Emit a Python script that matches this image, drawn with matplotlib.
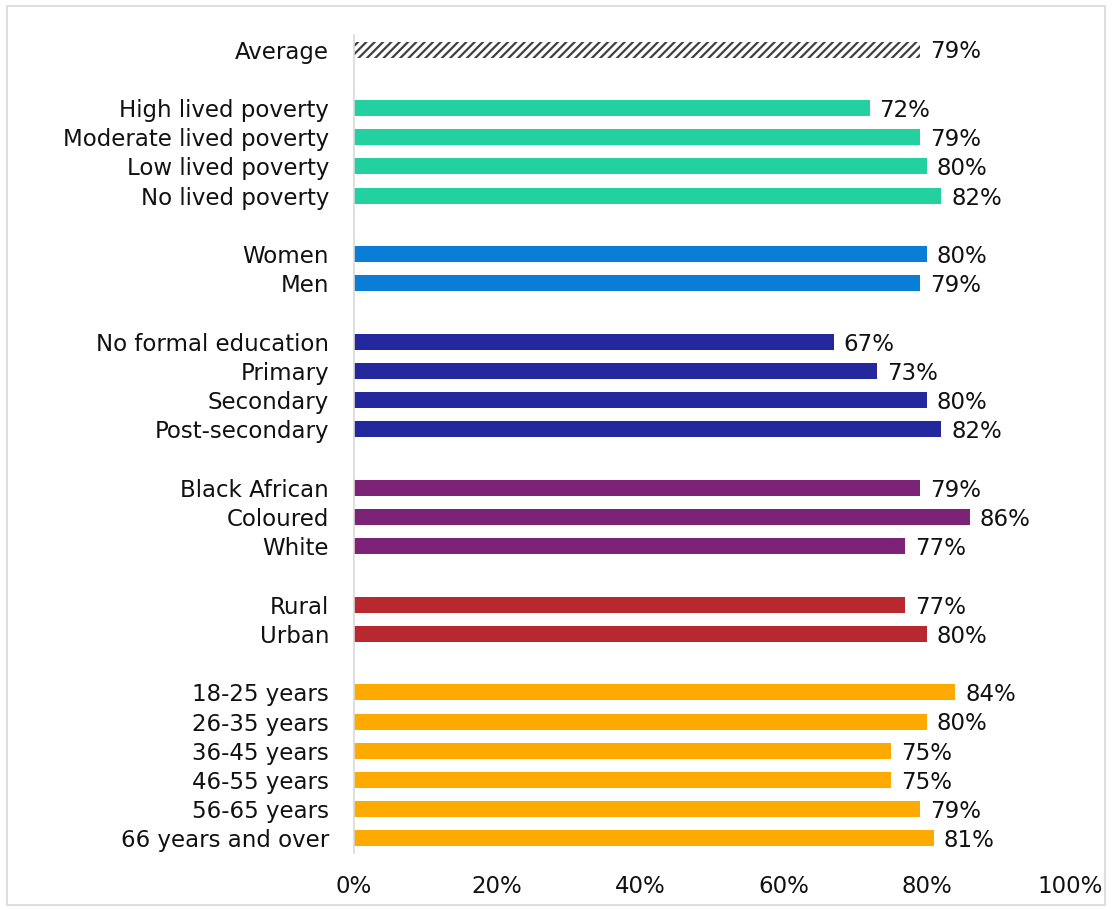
import matplotlib
matplotlib.use("Agg")
import matplotlib.pyplot as plt
from matplotlib.patches import Rectangle

plt.rcParams['font.family'] = ['DejaVu Sans']
plt.rcParams['hatch.linewidth'] = 1.6

# Data grouped
groups = [
    (["Average"], [79], "hatch"),
    (["High lived poverty", "Moderate lived poverty", "Low lived poverty", "No lived poverty"], [72, 79, 80, 82], "#22D0A0"),
    (["Women", "Men"], [80, 79], "#0A7DD6"),
    (["No formal education", "Primary", "Secondary", "Post-secondary"], [67, 73, 80, 82], "#23289C"),
    (["Black African", "Coloured", "White"], [79, 86, 77], "#7D2377"),
    (["Rural", "Urban"], [77, 80], "#B8282F"),
    (["18-25 years", "26-35 years", "36-45 years", "46-55 years", "56-65 years", "66 years and over"],
     [84, 80, 75, 75, 79, 81], "#FFAA00"),
]
x_ticks = [0, 20, 40, 60, 80, 100]

FS = 16.5
fig = plt.figure(figsize=(11.12, 9.1), dpi=100)
ax = fig.add_axes([354/1112, (910-853)/910, 716/1112, (853-35)/910])

pos = 0
yt, yl = [], []
for labels, vals, col in groups:
    for lab, v in zip(labels, vals):
        if col == "hatch":
            ax.barh(pos, v, height=0.55, color="white", edgecolor="#404040",
                    hatch="////", linewidth=0)
        else:
            ax.barh(pos, v, height=0.55, color=col, linewidth=0)
        ax.text(v + 1.4, pos + 0.08, f"{v}%", va="center", ha="left", fontsize=FS, color="#111111")
        yt.append(pos); yl.append(lab)
        pos += 1
    pos += 1

ax.set_ylim(pos - 1.5, -0.5)
ax.set_xlim(0, 100)
ax.set_yticks(yt)
ax.set_yticklabels(yl, fontsize=FS, color="#111111")
ax.set_xticks(x_ticks)
ax.set_xticklabels([f"{t}%" for t in x_ticks], fontsize=FS, color="#111111")
ax.tick_params(axis='both', length=0)
ax.tick_params(axis='y', pad=18)
ax.tick_params(axis='x', pad=16)
for s in ["top", "right", "bottom"]:
    ax.spines[s].set_visible(False)
ax.spines["left"].set_color("#D9D9D9")
ax.spines["left"].set_linewidth(1.2)

fig.patches.append(Rectangle((7/1112, 5/910), 1098/1112, 899/910, transform=fig.transFigure,
                             fill=False, edgecolor="#D9D9D9", linewidth=1.2))

fig.savefig("out.png", dpi=100)
